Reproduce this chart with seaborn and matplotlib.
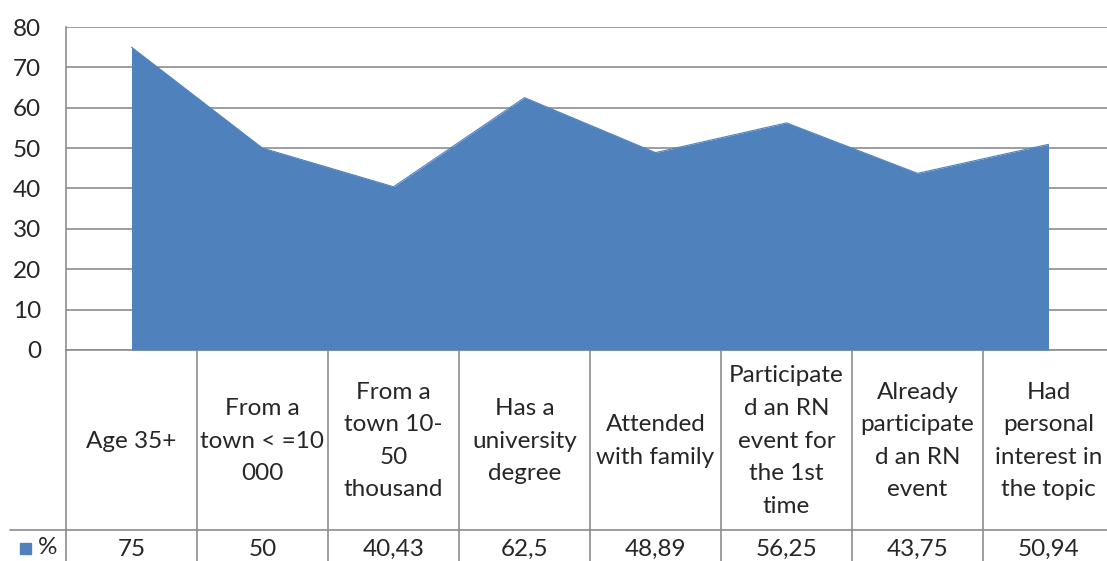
import matplotlib
matplotlib.use("Agg")
import matplotlib.pyplot as plt
import matplotlib.transforms as mtransforms
import seaborn as sns
import numpy as np
import pandas as pd

categories = ["Age 35+", "From a\ntown < =10\n000", "From a\ntown 10-\n50\nthousand",
              "Has a\nuniversity\ndegree", "Attended\nwith family",
              "Participate\nd an RN\nevent for\nthe 1st\ntime",
              "Already\nparticipate\nd an RN\nevent", "Had\npersonal\ninterest in\nthe topic"]
values = [75, 50, 40.43, 62.5, 48.89, 56.25, 43.75, 50.94]
value_labels = ["75", "50", "40,43", "62,5", "48,89", "56,25", "43,75", "50,94"]
series_name = "%"
yticks = [0, 10, 20, 30, 40, 50, 60, 70, 80]

sns.set_theme(style="white")
plt.rcParams['font.family'] = ['Lato', 'DejaVu Sans']

BLUE = "#4F81BD"
GRID = "#8C8C8C"
TXT = "#262626"
FS = 17.5

W, H = 1107, 561
fig = plt.figure(figsize=(W / 100, H / 100), dpi=100)
left, right, top, bottom = 66, 1114, 27, 350
ax = fig.add_axes([left / W, 1 - bottom / H, (right - left) / W, (bottom - top) / H])

df = pd.DataFrame({"x": np.arange(len(values)), "y": values})
sns.lineplot(data=df, x="x", y="y", ax=ax, color=BLUE, linewidth=0.8)
ax.fill_between(df["x"], 0, df["y"], color=BLUE, linewidth=0, zorder=3)

ax.set_xlim(-0.5, len(values) - 0.5)
ax.set_ylim(0, 80)
ax.set_yticks(yticks)
ax.set_yticklabels([str(t) for t in yticks], fontsize=FS, color=TXT)
ax.tick_params(axis="y", length=0, pad=18)
ax.set_xticks([])
ax.set_xlabel("")
ax.set_ylabel("")
ax.yaxis.grid(True, color=GRID, linewidth=1.2)
ax.set_axisbelow(True)
for s in ["top", "right"]:
    ax.spines[s].set_visible(False)
for s in ["left", "bottom"]:
    ax.spines[s].set_color(GRID)
    ax.spines[s].set_linewidth(1.2)

# data table below the axis
axh = bottom - top
def yf(py):
    return (bottom - py) / axh

trans = mtransforms.blended_transform_factory(ax.transData, ax.transAxes)
n = len(values)
for b in np.arange(n + 1) - 0.5:
    ax.plot([b, b], [0, yf(565)], transform=trans, color=GRID, lw=1.2, clip_on=False)
ax.plot([-0.5 - (left - 10) / ((right - left) / n), n - 0.5], [yf(530), yf(530)],
        transform=trans, color=GRID, lw=1.2, clip_on=False)

for i, (c, v) in enumerate(zip(categories, value_labels)):
    ax.text(i, yf(441), c, transform=trans, ha="center", va="center",
            fontsize=FS, color=TXT, linespacing=1.68)
    ax.text(i, yf(549), v, transform=trans, ha="center", va="center",
            fontsize=FS, color=TXT)

fig.patches.append(plt.Rectangle((20 / W, 1 - 554 / H), 11 / W, 11 / H,
                                 transform=fig.transFigure, color=BLUE))
fig.text(38 / W, 1 - 548 / H, series_name, ha="left", va="center", fontsize=FS, color=TXT)

fig.savefig("out.png", dpi=100)
